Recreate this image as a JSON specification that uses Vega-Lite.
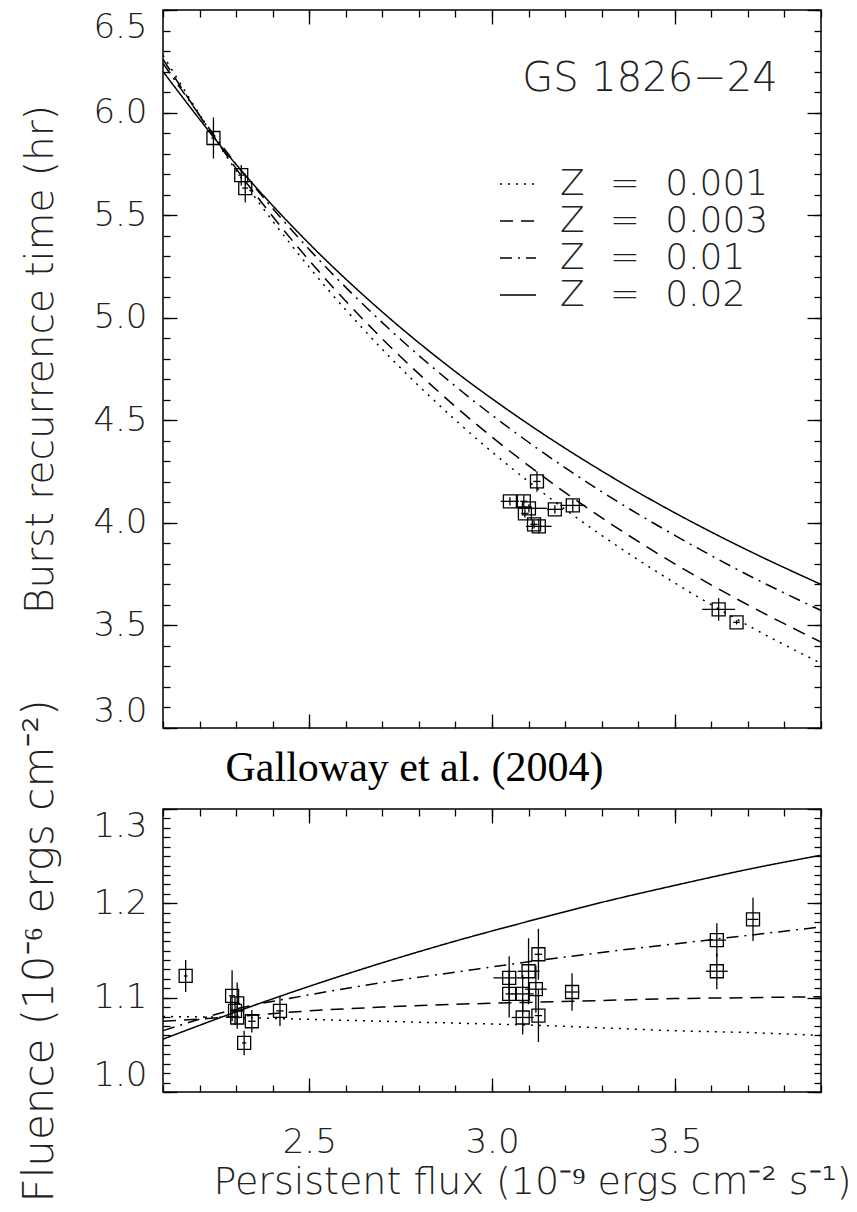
{
  "$schema": "https://vega.github.io/schema/vega-lite/v6.json",
  "background": "white",
  "autosize": {"type": "pad"},
  "padding": {"left": 17, "top": 8, "right": 0, "bottom": 0},
  "bounds": "flush",
  "spacing": 81,
  "config": {
    "view": {"stroke": "#000", "strokeWidth": 1.5},
    "axis": {
      "grid": false,
      "domain": false,
      "tickColor": "#000",
      "tickWidth": 1.3,
      "labelFont": "DejaVu Sans",
      "labelFontSize": 34,
      "labelFontWeight": 200,
      "labelColor": "#222",
      "titleFont": "DejaVu Sans",
      "titleFontSize": 39,
      "titleFontWeight": 200,
      "titleColor": "#222",
      "labelOverlap": false
    }
  },
  "resolve": {"scale": {"strokeDash": "independent"}},
  "datasets": {
    "topPts": [
      {"flux": 2.238, "t": 5.876, "xlo": 2.232, "xhi": 2.244, "tlo": 5.776, "thi": 5.976},
      {"flux": 2.314, "t": 5.695, "xlo": 2.306, "xhi": 2.322, "tlo": 5.645, "thi": 5.745},
      {"flux": 2.325, "t": 5.632, "xlo": 2.317, "xhi": 2.333, "tlo": 5.562, "thi": 5.702},
      {"flux": 3.123, "t": 4.202, "xlo": 3.113, "xhi": 3.133, "tlo": 4.152, "thi": 4.252},
      {"flux": 3.049, "t": 4.105, "xlo": 3.024, "xhi": 3.074, "tlo": 4.085, "thi": 4.125},
      {"flux": 3.087, "t": 4.105, "xlo": 3.077, "xhi": 3.097, "tlo": 4.075, "thi": 4.135},
      {"flux": 3.101, "t": 4.071, "xlo": 3.070, "xhi": 3.150, "tlo": 4.051, "thi": 4.091},
      {"flux": 3.090, "t": 4.046, "xlo": 3.080, "xhi": 3.100, "tlo": 4.026, "thi": 4.066},
      {"flux": 3.115, "t": 3.993, "xlo": 3.105, "xhi": 3.125, "tlo": 3.973, "thi": 4.013},
      {"flux": 3.128, "t": 3.983, "xlo": 3.093, "xhi": 3.163, "tlo": 3.948, "thi": 4.018},
      {"flux": 3.172, "t": 4.066, "xlo": 3.150, "xhi": 3.194, "tlo": 4.046, "thi": 4.086},
      {"flux": 3.221, "t": 4.085, "xlo": 3.187, "xhi": 3.255, "tlo": 4.055, "thi": 4.115},
      {"flux": 3.620, "t": 3.578, "xlo": 3.575, "xhi": 3.665, "tlo": 3.523, "thi": 3.633},
      {"flux": 3.669, "t": 3.515, "xlo": 3.660, "xhi": 3.678, "tlo": 3.505, "thi": 3.525}
    ],
    "topLines": [
      {"Z": "0.02", "flux": 2.1, "t": 6.200}, {"Z": "0.02", "flux": 2.3, "t": 5.747}, {"Z": "0.02", "flux": 2.5, "t": 5.361}, {"Z": "0.02", "flux": 2.7, "t": 5.028}, {"Z": "0.02", "flux": 2.9, "t": 4.737}, {"Z": "0.02", "flux": 3.1, "t": 4.481}, {"Z": "0.02", "flux": 3.3, "t": 4.253}, {"Z": "0.02", "flux": 3.5, "t": 4.049}, {"Z": "0.02", "flux": 3.7, "t": 3.866}, {"Z": "0.02", "flux": 3.9, "t": 3.700},
      {"Z": "0.01", "flux": 2.1, "t": 6.240}, {"Z": "0.01", "flux": 2.3, "t": 5.749}, {"Z": "0.01", "flux": 2.5, "t": 5.333}, {"Z": "0.01", "flux": 2.7, "t": 4.976}, {"Z": "0.01", "flux": 2.9, "t": 4.666}, {"Z": "0.01", "flux": 3.1, "t": 4.393}, {"Z": "0.01", "flux": 3.3, "t": 4.152}, {"Z": "0.01", "flux": 3.5, "t": 3.939}, {"Z": "0.01", "flux": 3.7, "t": 3.746}, {"Z": "0.01", "flux": 3.9, "t": 3.573},
      {"Z": "0.003", "flux": 2.1, "t": 6.260}, {"Z": "0.003", "flux": 2.3, "t": 5.727}, {"Z": "0.003", "flux": 2.5, "t": 5.279}, {"Z": "0.003", "flux": 2.7, "t": 4.897}, {"Z": "0.003", "flux": 2.9, "t": 4.567}, {"Z": "0.003", "flux": 3.1, "t": 4.279}, {"Z": "0.003", "flux": 3.3, "t": 4.025}, {"Z": "0.003", "flux": 3.5, "t": 3.800}, {"Z": "0.003", "flux": 3.7, "t": 3.600}, {"Z": "0.003", "flux": 3.9, "t": 3.419},
      {"Z": "0.001", "flux": 2.1, "t": 6.280}, {"Z": "0.001", "flux": 2.3, "t": 5.717}, {"Z": "0.001", "flux": 2.5, "t": 5.246}, {"Z": "0.001", "flux": 2.7, "t": 4.846}, {"Z": "0.001", "flux": 2.9, "t": 4.501}, {"Z": "0.001", "flux": 3.1, "t": 4.201}, {"Z": "0.001", "flux": 3.3, "t": 3.939}, {"Z": "0.001", "flux": 3.5, "t": 3.707}, {"Z": "0.001", "flux": 3.7, "t": 3.500}, {"Z": "0.001", "flux": 3.9, "t": 3.315}
    ],
    "botPts": [
      {"flux": 2.162, "fl": 1.123, "xlo": 2.157, "xhi": 2.167, "flo": 1.106, "fhi": 1.140},
      {"flux": 2.289, "fl": 1.102, "xlo": 2.281, "xhi": 2.297, "flo": 1.075, "fhi": 1.129},
      {"flux": 2.303, "fl": 1.094, "xlo": 2.295, "xhi": 2.311, "flo": 1.072, "fhi": 1.116},
      {"flux": 2.297, "fl": 1.086, "xlo": 2.289, "xhi": 2.305, "flo": 1.071, "fhi": 1.101},
      {"flux": 2.303, "fl": 1.079, "xlo": 2.295, "xhi": 2.311, "flo": 1.067, "fhi": 1.091},
      {"flux": 2.343, "fl": 1.075, "xlo": 2.333, "xhi": 2.353, "flo": 1.063, "fhi": 1.087},
      {"flux": 2.322, "fl": 1.052, "xlo": 2.316, "xhi": 2.328, "flo": 1.039, "fhi": 1.065},
      {"flux": 2.420, "fl": 1.086, "xlo": 2.410, "xhi": 2.430, "flo": 1.070, "fhi": 1.102},
      {"flux": 3.047, "fl": 1.121, "xlo": 3.004, "xhi": 3.090, "flo": 1.098, "fhi": 1.144},
      {"flux": 3.047, "fl": 1.104, "xlo": 3.037, "xhi": 3.057, "flo": 1.079, "fhi": 1.129},
      {"flux": 3.100, "fl": 1.128, "xlo": 3.070, "xhi": 3.130, "flo": 1.093, "fhi": 1.163},
      {"flux": 3.084, "fl": 1.104, "xlo": 3.054, "xhi": 3.114, "flo": 1.084, "fhi": 1.124},
      {"flux": 3.120, "fl": 1.109, "xlo": 3.090, "xhi": 3.150, "flo": 1.084, "fhi": 1.134},
      {"flux": 3.127, "fl": 1.146, "xlo": 3.117, "xhi": 3.137, "flo": 1.119, "fhi": 1.173},
      {"flux": 3.084, "fl": 1.079, "xlo": 3.054, "xhi": 3.114, "flo": 1.061, "fhi": 1.097},
      {"flux": 3.127, "fl": 1.081, "xlo": 3.117, "xhi": 3.137, "flo": 1.053, "fhi": 1.109},
      {"flux": 3.219, "fl": 1.106, "xlo": 3.199, "xhi": 3.239, "flo": 1.086, "fhi": 1.126},
      {"flux": 3.615, "fl": 1.161, "xlo": 3.590, "xhi": 3.640, "flo": 1.143, "fhi": 1.179},
      {"flux": 3.615, "fl": 1.128, "xlo": 3.585, "xhi": 3.645, "flo": 1.109, "fhi": 1.147},
      {"flux": 3.714, "fl": 1.183, "xlo": 3.699, "xhi": 3.729, "flo": 1.160, "fhi": 1.206}
    ],
    "botLines": [
      {"Z": "0.02", "flux": 2.1, "fl": 1.056}, {"Z": "0.02", "flux": 2.3, "fl": 1.085}, {"Z": "0.02", "flux": 2.5, "fl": 1.112}, {"Z": "0.02", "flux": 2.7, "fl": 1.137}, {"Z": "0.02", "flux": 2.9, "fl": 1.160}, {"Z": "0.02", "flux": 3.1, "fl": 1.181}, {"Z": "0.02", "flux": 3.3, "fl": 1.201}, {"Z": "0.02", "flux": 3.5, "fl": 1.219}, {"Z": "0.02", "flux": 3.7, "fl": 1.236}, {"Z": "0.02", "flux": 3.9, "fl": 1.251},
      {"Z": "0.01", "flux": 2.1, "fl": 1.065}, {"Z": "0.01", "flux": 2.3, "fl": 1.088}, {"Z": "0.01", "flux": 2.5, "fl": 1.103}, {"Z": "0.01", "flux": 2.7, "fl": 1.116}, {"Z": "0.01", "flux": 2.9, "fl": 1.127}, {"Z": "0.01", "flux": 3.1, "fl": 1.138}, {"Z": "0.01", "flux": 3.3, "fl": 1.148}, {"Z": "0.01", "flux": 3.5, "fl": 1.157}, {"Z": "0.01", "flux": 3.7, "fl": 1.166}, {"Z": "0.01", "flux": 3.9, "fl": 1.175},
      {"Z": "0.003", "flux": 2.1, "fl": 1.075}, {"Z": "0.003", "flux": 2.3, "fl": 1.080}, {"Z": "0.003", "flux": 2.5, "fl": 1.086}, {"Z": "0.003", "flux": 2.7, "fl": 1.090}, {"Z": "0.003", "flux": 2.9, "fl": 1.093}, {"Z": "0.003", "flux": 3.1, "fl": 1.095}, {"Z": "0.003", "flux": 3.3, "fl": 1.097}, {"Z": "0.003", "flux": 3.5, "fl": 1.099}, {"Z": "0.003", "flux": 3.7, "fl": 1.100}, {"Z": "0.003", "flux": 3.9, "fl": 1.101},
      {"Z": "0.001", "flux": 2.1, "fl": 1.080}, {"Z": "0.001", "flux": 2.3, "fl": 1.079}, {"Z": "0.001", "flux": 2.5, "fl": 1.077}, {"Z": "0.001", "flux": 2.7, "fl": 1.075}, {"Z": "0.001", "flux": 2.9, "fl": 1.073}, {"Z": "0.001", "flux": 3.1, "fl": 1.071}, {"Z": "0.001", "flux": 3.3, "fl": 1.068}, {"Z": "0.001", "flux": 3.5, "fl": 1.065}, {"Z": "0.001", "flux": 3.7, "fl": 1.063}, {"Z": "0.001", "flux": 3.9, "fl": 1.060}
    ]
  },
  "vconcat": [
    {
      "width": 658,
      "height": 718,
      "resolve": {"axis": {"x": "independent", "y": "independent"}},
      "layer": [
        {
          "data": {"name": "topLines"},
          "mark": {"type": "line", "color": "#000", "strokeWidth": 1.5, "interpolate": "monotone", "clip": true},
          "encoding": {
            "x": {"field": "flux", "type": "quantitative", "scale": {"domain": [2.1, 3.9], "nice": false, "zero": false},
              "axis": {"orient": "bottom", "offset": -14, "tickSize": 14, "values": [2.5, 3.0, 3.5], "labels": false,
                "title": "Galloway et al. (2004)", "titleFont": "Liberation Serif", "titleFontSize": 42, "titleFontWeight": "normal", "titleColor": "#000",
                "titleX": 62, "titleY": 66, "titleAlign": "left", "titleBaseline": "alphabetic"}},
            "y": {"field": "t", "type": "quantitative", "scale": {"domain": [3.0, 6.5], "nice": false, "zero": false},
              "axis": {"orient": "left", "offset": -14, "tickSize": 14, "values": [3.0, 3.5, 4.0, 4.5, 5.0, 5.5, 6.0, 6.5], "format": ".1f",
                "labelFlush": true, "labelPadding": 16,
                "title": "Burst recurrence time (hr)", "titleX": -125, "titleY": 349, "titleAngle": 270, "titleAlign": "center", "titleBaseline": "alphabetic"}},
            "strokeDash": {"field": "Z", "type": "nominal",
              "scale": {"domain": ["0.001", "0.003", "0.01", "0.02"], "range": [[2, 6], [13, 8], [12, 6, 2, 6], [1, 0]]},
              "legend": {"orient": "none", "legendX": 336, "legendY": 155, "title": null, "padding": 0, "symbolType": "stroke", "symbolSize": 1296,
                "symbolStrokeWidth": 1.5, "symbolStrokeColor": "#000", "labelFont": "DejaVu Sans", "labelFontSize": 36, "labelFontWeight": 200, "labelColor": "#222",
                "labelOffset": 23, "rowPadding": 0, "labelLimit": 400,
                "labelExpr": "'Z\u2002\u2009=\u2002\u2009' + datum.label"}}
          }
        },
        {
          "data": {"name": "topPts"},
          "mark": {"type": "rule", "color": "#000", "strokeWidth": 1.3},
          "encoding": {
            "x": {"field": "xlo", "type": "quantitative",
              "axis": {"orient": "top", "offset": -14, "tickSize": 14, "values": [2.5, 3.0, 3.5], "labels": false, "title": null}},
            "x2": {"field": "xhi"},
            "y": {"field": "t", "type": "quantitative",
              "axis": {"orient": "right", "offset": -14, "tickSize": 14, "values": [3.0, 3.5, 4.0, 4.5, 5.0, 5.5, 6.0, 6.5], "labels": false, "title": null}}
          }
        },
        {
          "data": {"name": "topPts"},
          "mark": {"type": "rule", "color": "#000", "strokeWidth": 1.3},
          "encoding": {
            "x": {"field": "flux", "type": "quantitative",
              "axis": {"orient": "bottom", "offset": -7, "tickSize": 7, "values": [2.1,2.2,2.3,2.4,2.5,2.6,2.7,2.8,2.9,3.0,3.1,3.2,3.3,3.4,3.5,3.6,3.7,3.8,3.9], "labels": false, "title": null}},
            "y": {"field": "tlo", "type": "quantitative",
              "axis": {"orient": "left", "offset": -7, "tickSize": 7, "values": [3.0,3.1,3.2,3.3,3.4,3.5,3.6,3.7,3.8,3.9,4.0,4.1,4.2,4.3,4.4,4.5,4.6,4.7,4.8,4.9,5.0,5.1,5.2,5.3,5.4,5.5,5.6,5.7,5.8,5.9,6.0,6.1,6.2,6.3,6.4,6.5], "labels": false, "title": null}},
            "y2": {"field": "thi"}
          }
        },
        {
          "data": {"name": "topPts"},
          "mark": {"type": "point", "shape": "square", "filled": false, "size": 169, "stroke": "#000", "strokeWidth": 1.3, "opacity": 1},
          "encoding": {
            "x": {"field": "flux", "type": "quantitative",
              "axis": {"orient": "top", "offset": -7, "tickSize": 7, "values": [2.1,2.2,2.3,2.4,2.5,2.6,2.7,2.8,2.9,3.0,3.1,3.2,3.3,3.4,3.5,3.6,3.7,3.8,3.9], "labels": false, "title": null}},
            "y": {"field": "t", "type": "quantitative",
              "axis": {"orient": "right", "offset": -7, "tickSize": 7, "values": [3.0,3.1,3.2,3.3,3.4,3.5,3.6,3.7,3.8,3.9,4.0,4.1,4.2,4.3,4.4,4.5,4.6,4.7,4.8,4.9,5.0,5.1,5.2,5.3,5.4,5.5,5.6,5.7,5.8,5.9,6.0,6.1,6.2,6.3,6.4,6.5], "labels": false, "title": null}}
          }
        },
        {
          "data": {"values": [{"label": "GS 1826\u221224"}]},
          "mark": {"type": "text", "font": "DejaVu Sans", "fontSize": 40, "fontWeight": 200, "color": "#222", "align": "center", "baseline": "middle"},
          "encoding": {
            "x": {"datum": 3.432, "type": "quantitative", "axis": null},
            "y": {"datum": 6.163, "type": "quantitative", "axis": null},
            "text": {"field": "label", "type": "nominal"}
          }
        }
      ]
    },
    {
      "width": 658,
      "height": 283,
      "resolve": {"axis": {"x": "independent", "y": "independent"}},
      "layer": [
        {
          "data": {"name": "botLines"},
          "mark": {"type": "line", "color": "#000", "strokeWidth": 1.5, "interpolate": "monotone", "clip": true},
          "encoding": {
            "x": {"field": "flux", "type": "quantitative", "scale": {"domain": [2.1, 3.9], "nice": false, "zero": false},
              "axis": {"orient": "bottom", "offset": -14, "tickSize": 14, "values": [2.5, 3.0, 3.5], "format": ".1f", "labelPadding": 33,
                "title": "Persistent flux (10\u207b\u2079 ergs cm\u207b\u00b2 s\u207b\u00b9)", "titleFontSize": 38, "titleX": 369, "titleY": 115, "titleAlign": "center", "titleBaseline": "alphabetic"}},
            "y": {"field": "fl", "type": "quantitative", "scale": {"domain": [1.0, 1.3], "nice": false, "zero": false},
              "axis": {"orient": "left", "offset": -14, "tickSize": 14, "values": [1.0, 1.1, 1.2, 1.3], "format": ".1f",
                "labelFlush": true, "labelPadding": 16,
                "title": "Fluence (10\u207b\u2076 ergs cm\u207b\u00b2)", "titleFontSize": 42, "titleX": -125, "titleY": 141.5, "titleAngle": 270, "titleAlign": "center", "titleBaseline": "alphabetic"}},
            "strokeDash": {"field": "Z", "type": "nominal",
              "scale": {"domain": ["0.001", "0.003", "0.01", "0.02"], "range": [[2, 6], [13, 8], [12, 6, 2, 6], [1, 0]]},
              "legend": null}
          }
        },
        {
          "data": {"name": "botPts"},
          "mark": {"type": "rule", "color": "#000", "strokeWidth": 1.3},
          "encoding": {
            "x": {"field": "xlo", "type": "quantitative",
              "axis": {"orient": "top", "offset": -14, "tickSize": 14, "values": [2.5, 3.0, 3.5], "labels": false, "title": null}},
            "x2": {"field": "xhi"},
            "y": {"field": "fl", "type": "quantitative",
              "axis": {"orient": "right", "offset": -14, "tickSize": 14, "values": [1.0, 1.1, 1.2, 1.3], "labels": false, "title": null}}
          }
        },
        {
          "data": {"name": "botPts"},
          "mark": {"type": "rule", "color": "#000", "strokeWidth": 1.3},
          "encoding": {
            "x": {"field": "flux", "type": "quantitative",
              "axis": {"orient": "bottom", "offset": -7, "tickSize": 7, "values": [2.1,2.2,2.3,2.4,2.5,2.6,2.7,2.8,2.9,3.0,3.1,3.2,3.3,3.4,3.5,3.6,3.7,3.8,3.9], "labels": false, "title": null}},
            "y": {"field": "flo", "type": "quantitative",
              "axis": {"orient": "left", "offset": -7, "tickSize": 7, "values": [1.0,1.01,1.02,1.03,1.04,1.05,1.06,1.07,1.08,1.09,1.1,1.11,1.12,1.13,1.14,1.15,1.16,1.17,1.18,1.19,1.2,1.21,1.22,1.23,1.24,1.25,1.26,1.27,1.28,1.29,1.3], "labels": false, "title": null}},
            "y2": {"field": "fhi"}
          }
        },
        {
          "data": {"name": "botPts"},
          "mark": {"type": "point", "shape": "square", "filled": false, "size": 169, "stroke": "#000", "strokeWidth": 1.3, "opacity": 1},
          "encoding": {
            "x": {"field": "flux", "type": "quantitative",
              "axis": {"orient": "top", "offset": -7, "tickSize": 7, "values": [2.1,2.2,2.3,2.4,2.5,2.6,2.7,2.8,2.9,3.0,3.1,3.2,3.3,3.4,3.5,3.6,3.7,3.8,3.9], "labels": false, "title": null}},
            "y": {"field": "fl", "type": "quantitative",
              "axis": {"orient": "right", "offset": -7, "tickSize": 7, "values": [1.0,1.01,1.02,1.03,1.04,1.05,1.06,1.07,1.08,1.09,1.1,1.11,1.12,1.13,1.14,1.15,1.16,1.17,1.18,1.19,1.2,1.21,1.22,1.23,1.24,1.25,1.26,1.27,1.28,1.29,1.3], "labels": false, "title": null}}
          }
        }
      ]
    }
  ]
}
